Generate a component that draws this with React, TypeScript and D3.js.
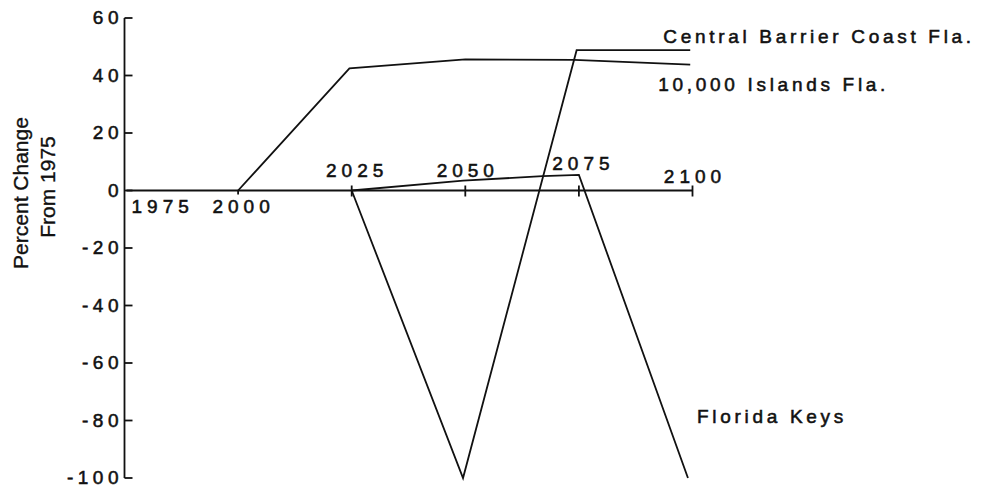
import React from "react";
import * as d3 from "d3";

// x axis years and y axis ticks
const yearTicks = [1975, 2000, 2025, 2050, 2075, 2100];
const valueTicks = [60, 40, 20, 0, -20, -40, -60, -80, -100];

// series (percent change from 1975)
const islandsYears = [2000, 2024.5, 2050, 2074, 2099.5];
const islandsValues = [0, 42.5, 45.6, 45.4, 43.8];

const barrierYears = [2025, 2049.5, 2074.5, 2099.5];
const barrierValues = [0, -100, 48.8, 48.8];

const keysYears = [2025, 2049.5, 2067, 2075, 2099];
const keysValues = [0, 3.4, 5, 5.4, -100];

const seriesNames = ["10,000 Islands Fla.", "Central Barrier Coast Fla.", "Florida Keys"];

const W = 981;
const H = 487;
const INK = "#111";
const FONT = "'Liberation Sans', Arial, Helvetica, sans-serif";

// where each year label sits relative to its tick (the figure staggers them)
const yearLabelLayout = [
  { anchor: "start", dx: 7, dy: 22.5 },
  { anchor: "middle", dx: 3, dy: 22.5 },
  { anchor: "middle", dx: 3, dy: -13.5 },
  { anchor: "middle", dx: 0, dy: -13.5 },
  { anchor: "middle", dx: 2, dy: -20.5 },
  { anchor: "middle", dx: 0, dy: -7.5 },
];

// scanned type looks heavier than a plain regular face
const inkText = { fill: INK, stroke: INK, strokeWidth: 0.55 };

export default function App() {
  const x = d3.scaleLinear().domain([1975, 2100]).range([124.5, 692.5]);
  const y = d3.scaleLinear().domain([60, -100]).range([18, 478]);

  const line = d3
    .line<[number, number]>()
    .x((d) => x(d[0]))
    .y((d) => y(d[1]));

  const series = [
    { name: seriesNames[0], pts: d3.zip(islandsYears, islandsValues) as [number, number][], lab: { dx: -32, dy: 26 } },
    { name: seriesNames[1], pts: d3.zip(barrierYears, barrierValues) as [number, number][], lab: { dx: -27, dy: -7 } },
    { name: seriesNames[2], pts: d3.zip(keysYears, keysValues) as [number, number][], lab: { dx: 9, dy: -55 } },
  ];

  const axisX = x(1975);
  const y0 = y(0);
  const tickLs = 5;
  const valLs = 4.5;
  const labLs = 3.7;
  const sw = 1.8;

  return (
    <svg
      width={W}
      height={H}
      style={{ position: "absolute", left: 0, top: 0, background: "#fff" }}
      fontFamily={FONT}
    >
      <rect width={W} height={H} fill="#fff" />

      {/* y axis */}
      <line x1={axisX} x2={axisX} y1={y(60)} y2={y(-100)} stroke={INK} strokeWidth={sw} />
      {valueTicks.map((v) => (
        <g key={v}>
          <line x1={axisX} x2={axisX + 8} y1={y(v)} y2={y(v)} stroke={INK} strokeWidth={sw} />
          <text
            x={axisX - 6 + valLs}
            y={y(v)}
            dy="0.34em"
            textAnchor="end"
            fontSize={19}
            letterSpacing={valLs}
            {...inkText}
          >
            {v < 0 ? "-" + Math.abs(v) : v}
          </text>
        </g>
      ))}

      {/* x axis along zero */}
      <line x1={axisX + 2} x2={x(2100)} y1={y0} y2={y0} stroke={INK} strokeWidth={sw} />
      <line x1={x(2000)} x2={x(2000)} y1={y0} y2={y0 + 4} stroke={INK} strokeWidth={sw} />
      {yearTicks.slice(2).map((yr) => (
        <line key={yr} x1={x(yr)} x2={x(yr)} y1={y0 - 5} y2={y0 + 6} stroke={INK} strokeWidth={sw} />
      ))}
      {yearTicks.map((yr, i) => {
        const l = yearLabelLayout[i];
        return (
          <text
            key={yr}
            x={x(yr) + l.dx + (l.anchor === "middle" ? tickLs / 2 : 0)}
            y={y0 + l.dy}
            textAnchor={l.anchor}
            fontSize={19}
            letterSpacing={tickLs}
            {...inkText}
          >
            {yr}
          </text>
        );
      })}

      {/* series */}
      {series.map((s) => {
        const last = s.pts[s.pts.length - 1];
        return (
          <g key={s.name}>
            <path d={line(s.pts) || ""} fill="none" stroke={INK} strokeWidth={sw} strokeLinejoin="miter" />
            <text
              x={x(last[0]) + s.lab.dx}
              y={y(last[1]) + s.lab.dy}
              fontSize={19}
              letterSpacing={labLs}
              {...inkText}
            >
              {s.name}
            </text>
          </g>
        );
      })}

      {/* y axis title */}
      <text transform={`translate(28,193) rotate(-90)`} textAnchor="middle" fontSize={21} {...inkText} strokeWidth={0.35}>
        Percent Change
      </text>
      <text transform={`translate(55,187) rotate(-90)`} textAnchor="middle" fontSize={21} {...inkText} strokeWidth={0.35}>
        From 1975
      </text>
    </svg>
  );
}
